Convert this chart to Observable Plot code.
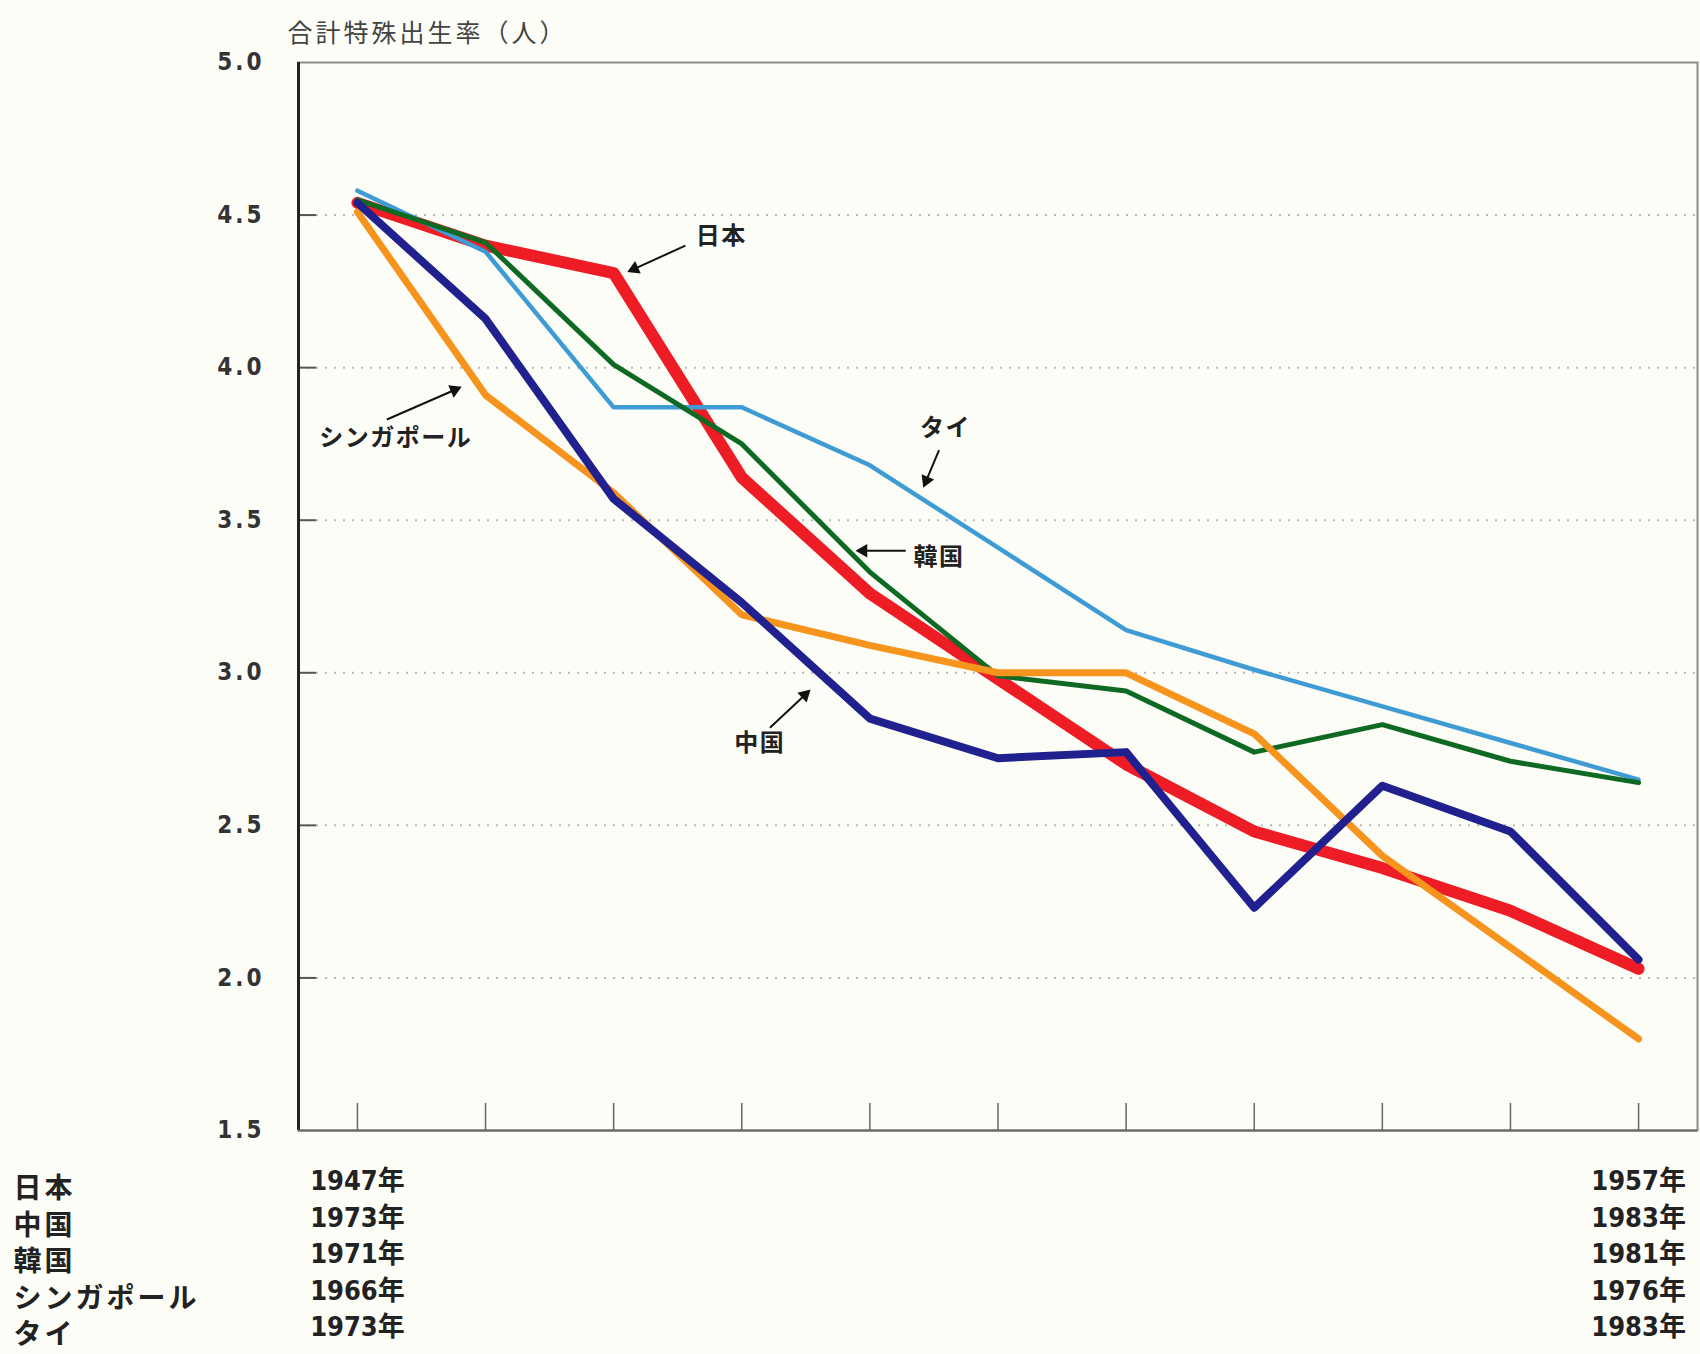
<!DOCTYPE html>
<html>
<head>
<meta charset="utf-8">
<script src="https://cdn.jsdelivr.net/npm/d3@7"></script>
<script src="https://cdn.jsdelivr.net/npm/@observablehq/plot@0.6"></script>
<style>
html, body { margin: 0; padding: 0; background: #fdfdf8; }
#chart svg { display: block; }
#chart g[aria-label="y-axis tick label"] text { letter-spacing: 3px; }
#chart text[aria-label="ytitle"] { letter-spacing: 3px; }
#chart text[aria-label="names"] { letter-spacing: 3px; }
#chart text[aria-label="ann"] { letter-spacing: 1.5px; }
</style>
</head>
<body>
<div id="chart"></div>
<script>
// ---- data ----
const countries  = ["日本", "中国", "韓国", "シンガポール", "タイ"];
const startYears = ["1947年", "1973年", "1971年", "1966年", "1973年"];
const endYears   = ["1957年", "1983年", "1981年", "1976年", "1983年"];
const yTitle = "合計特殊出生率（人）";

// total fertility rate, 11 consecutive years from each start year
const japan     = [4.54, 4.40, 4.31, 3.64, 3.26, 2.98, 2.70, 2.48, 2.36, 2.22, 2.03];
const china     = [4.54, 4.16, 3.57, 3.23, 2.85, 2.72, 2.74, 2.23, 2.63, 2.48, 2.06];
const korea     = [4.55, 4.41, 4.01, 3.75, 3.33, 2.99, 2.94, 2.74, 2.83, 2.71, 2.64];
const singapore = [4.51, 3.91, 3.59, 3.19, 3.09, 3.00, 3.00, 2.80, 2.40, 2.10, 1.80];
const thai      = [4.58, 4.38, 3.87, 3.87, 3.68, 3.41, 3.14, 3.01, 2.89, 2.77, 2.65];

const yTicks = [1.5, 2.0, 2.5, 3.0, 3.5, 4.0, 4.5, 5.0];
const gridVals = [2.0, 2.5, 3.0, 3.5, 4.0, 4.5];
const xIdx = [0, 1, 2, 3, 4, 5, 6, 7, 8, 9, 10];

// annotations (label position and arrow tail -> tip, in data units)
const annLabels = ["日本", "シンガポール", "タイ", "韓国", "中国"];
const annX  = [2.84, 0.30, 4.59, 4.54, 3.14];
const annY  = [4.43, 3.77, 3.80, 3.38, 2.77];
const arrX1 = [2.56, 0.23, 4.54, 4.28, 3.22];
const arrY1 = [4.40, 3.83, 3.73, 3.40, 2.82];
const arrX2 = [2.09, 0.83, 4.41, 3.87, 3.55];
const arrY2 = [4.31, 3.94, 3.60, 3.40, 2.95];

// ---- layout ----
const W = 1700, H = 1354;
const mL = 298, mR = 3, mT = 62, mB = 224;
const plotW = W - mL - mR, plotH = H - mT - mB;
const xDomain = [-0.46, 10.46];
const yDomain = [1.5, 5.0];
const kx = plotW / (xDomain[1] - xDomain[0]);   // px per x unit
const ky = plotH / (yDomain[1] - yDomain[0]);   // px per y unit

const numFont = "'Liberation Sans Narrow', 'DejaVu Sans Condensed', 'Roboto', 'Noto Sans CJK JP', sans-serif";
const jpFont = "'Noto Sans CJK JP', sans-serif";

const headR = 6.5;
const headBack = headR * 2.69 * 0.866 * 0.667; // centroid distance from tip (px)
const ann = annLabels.map((t, i) => {
  const sx = (arrX2[i] - arrX1[i]) * kx, sy = -(arrY2[i] - arrY1[i]) * ky;
  const len = Math.hypot(sx, sy);
  const ux = sx / len, uy = sy / len;
  return {
    t, x: annX[i], y: annY[i], x1: arrX1[i], y1: arrY1[i], x2: arrX2[i], y2: arrY2[i],
    hx: arrX2[i] - ux * headBack / kx,
    hy: arrY2[i] + uy * headBack / ky,
    rot: Math.atan2(sx, -sy) * 180 / Math.PI
  };
});

const series = [
  {v: japan,     color: "#ee1c24", w: 12},
  {v: thai,      color: "#3f9bd4", w: 4.5},
  {v: korea,     color: "#0e6a22", w: 5},
  {v: singapore, color: "#f7941d", w: 7},
  {v: china,     color: "#20208f", w: 8}
];

const chart = Plot.plot({
  width: W, height: H,
  marginLeft: mL, marginRight: mR, marginTop: mT, marginBottom: mB,
  style: {background: "#fdfdf8", fontFamily: jpFont, overflow: "visible"},
  x: {domain: xDomain, label: null},
  y: {domain: yDomain, label: null},
  marks: [
    Plot.frame({stroke: "#8a8a8a", strokeWidth: 2}),
    Plot.ruleY(gridVals, {stroke: "#b8b8b8", strokeWidth: 2, strokeDasharray: "2 7"}),
    Plot.tickY(gridVals, {y: d => d, insetRight: plotW - 18, stroke: "#555", strokeWidth: 2}),
    Plot.tickX(xIdx, {x: d => d, insetTop: plotH - 27, stroke: "#666", strokeWidth: 1.5}),
    ...series.map(s => Plot.line(s.v, {
      x: (d, i) => i, y: d => d,
      stroke: s.color, strokeWidth: s.w, strokeLinejoin: "round", strokeLinecap: "round"
    })),
    Plot.ruleX([xDomain[0]], {stroke: "#222", strokeWidth: 3}),
    Plot.ruleY([1.5], {stroke: "#666", strokeWidth: 2}),
    Plot.link(ann, {x1: "x1", y1: "y1", x2: "hx", y2: "hy", stroke: "#111", strokeWidth: 2}),
    Plot.dot(ann, {x: "hx", y: "hy", symbol: "triangle2", r: headR, rotate: "rot", fill: "#111"}),
    Plot.text(ann, {ariaLabel: () => "ann", x: "x", y: "y", text: "t", fontSize: 24, fontWeight: "bold", fill: "#222", fontFamily: jpFont}),
    Plot.text([yTitle], {ariaLabel: () => "ytitle", frameAnchor: "top-left", text: d => d, textAnchor: "start", dx: -11, dy: -38, fontSize: 25, fill: "#444", fontFamily: jpFont}),
    Plot.text([countries.join("\n")], {ariaLabel: () => "names", frameAnchor: "bottom-left", text: d => d, textAnchor: "start", lineAnchor: "top", dx: -285, dy: 42, fontSize: 28, fontWeight: "bold", lineHeight: 1.3, fill: "#222", fontFamily: jpFont}),
    Plot.axisY({ticks: yTicks, tickSize: 0, tickPadding: 34, tickFormat: d3.format(".1f"), fontSize: 24, fontWeight: "bold", fill: "#333", fontFamily: numFont, label: null}),
    Plot.axisX({ticks: [0, 10], tickSize: 0, tickPadding: 34, tickFormat: d => (d === 0 ? startYears : endYears).join("\n"), fontSize: 27, fontWeight: "bold", lineHeight: 1.35, fill: "#222", fontFamily: numFont, label: null})
  ]
});
document.getElementById("chart").appendChild(chart);
</script>
</body>
</html>
